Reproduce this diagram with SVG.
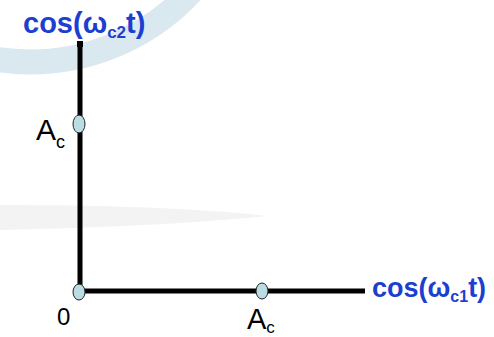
<svg xmlns="http://www.w3.org/2000/svg" width="494" height="337" viewBox="0 0 494 337">
<defs>
<style>
.lbl{font-family:"Liberation Sans",Arial,sans-serif;font-weight:bold;fill:#1c3fcf}
.tx{font-family:"Liberation Sans",Arial,sans-serif;fill:#000}
.axis{stroke:#000;stroke-width:5;fill:none}
.pt{fill:#b9dde3;stroke:#222;stroke-width:1}
</style>
</defs>
<rect width="494" height="337" fill="#fff"/>
<g id="background">
<circle cx="30" cy="-158" r="220" fill="none" stroke="#dae8ef" stroke-width="25"/>
<path d="M0,205 C100,205 200,208 267,216 C200,223 100,228 0,230 Z" fill="#f3f3f3"/>
</g>
<g id="connectors">
<line class="axis" x1="80" y1="42" x2="80" y2="291"/>
<rect x="77" y="41" width="6" height="6" fill="#000"/>
<line class="axis" x1="80" y1="291" x2="365" y2="291"/>
</g>
<g id="node-origin">
<ellipse class="pt" cx="79" cy="292" rx="6" ry="8"/>
<text class="tx" x="57" y="325" font-size="24">0</text>
</g>
<g id="node-ac-y">
<ellipse class="pt" cx="79" cy="124" rx="6" ry="9"/>
<text class="tx" x="36" y="140" font-size="30">A<tspan font-size="18" dy="8">c</tspan></text>
</g>
<g id="node-ac-x">
<ellipse class="pt" cx="262" cy="291" rx="6" ry="8"/>
<text class="tx" x="247" y="329" font-size="29">A<tspan font-size="17" dy="4">c</tspan></text>
</g>
<g id="label-y">
<text class="lbl" x="23" y="33" font-size="29">cos(ω<tspan font-size="17" dy="5">c2</tspan><tspan dy="-5">t)</tspan></text>
</g>
<g id="label-x">
<text class="lbl" x="372" y="297" font-size="27">cos(ω<tspan font-size="16" dy="5">c1</tspan><tspan dy="-5">t)</tspan></text>
</g>
</svg>
